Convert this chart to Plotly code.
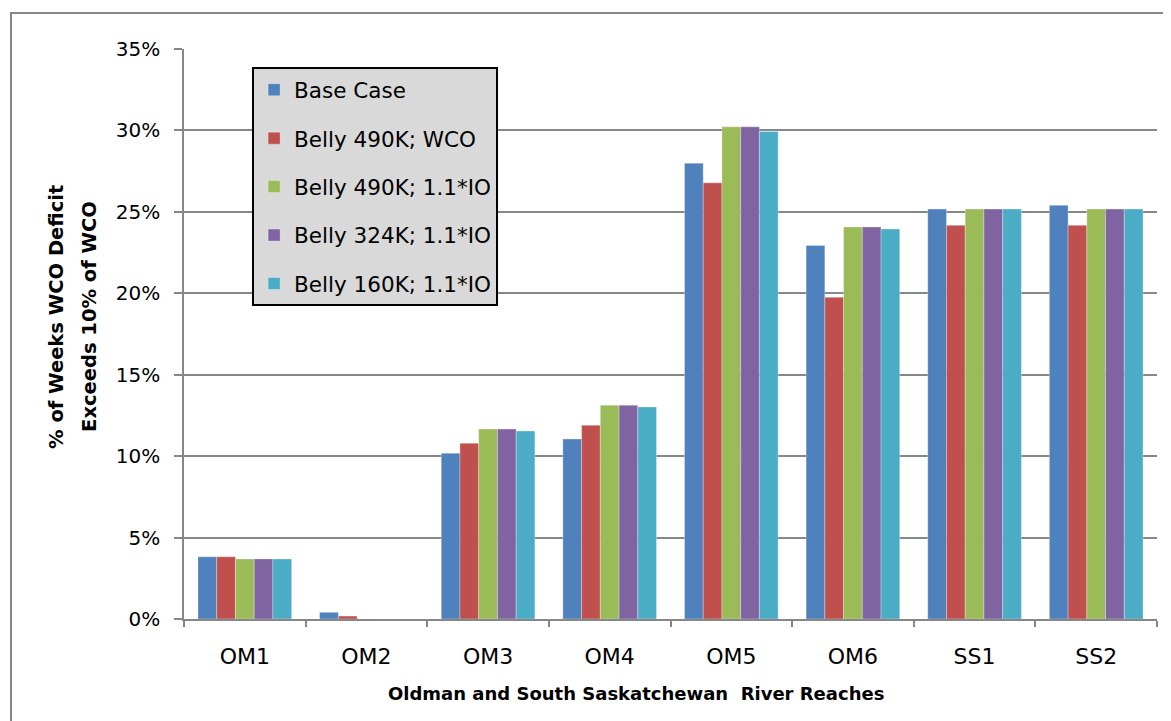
import plotly.graph_objects as go

# Reaches along the x axis
reaches = ["OM1", "OM2", "OM3", "OM4", "OM5", "OM6", "SS1", "SS2"]

# % of weeks in which WCO deficit exceeds 10% of WCO (fractions)
base_case = [0.0382, 0.0041, 0.1018, 0.1105, 0.2799, 0.2294, 0.2517, 0.2540]
belly_490_wco = [0.0382, 0.0018, 0.1079, 0.1190, 0.2678, 0.1976, 0.2417, 0.2417]
belly_490_io = [0.0369, 0.0, 0.1166, 0.1313, 0.3022, 0.2407, 0.2517, 0.2517]
belly_324_io = [0.0369, 0.0, 0.1166, 0.1313, 0.3022, 0.2407, 0.2517, 0.2517]
belly_160_io = [0.0369, 0.0, 0.1154, 0.1302, 0.2994, 0.2394, 0.2517, 0.2517]

series_names = ["Base Case", "Belly 490K; WCO", "Belly 490K; 1.1*IO",
                "Belly 324K; 1.1*IO", "Belly 160K; 1.1*IO"]
series_values = [base_case, belly_490_wco, belly_490_io, belly_324_io, belly_160_io]
colors = ["#4F81BD", "#C0504D", "#9BBB59", "#8064A2", "#4BACC6"]

font_family = "'DejaVu Sans', sans-serif"

fig = go.Figure()
for name, vals, col in zip(series_names, series_values, colors):
    fig.add_trace(go.Bar(
        x=reaches, y=vals, name=name, legendgroup=name,
        marker=dict(color=col, line=dict(color="rgba(255,255,255,0.6)", width=0.5)),
    ))

# page body has an 8px margin, so the figure is 8px smaller than the window
fig.update_layout(
    width=1163, height=713,
    margin=dict(l=176, r=14, t=41, b=102),
    paper_bgcolor="white", plot_bgcolor="white",
    barmode="group", bargap=0.23, bargroupgap=0,
    font=dict(family=font_family, color="black", size=19),
    showlegend=True,
    legend=dict(
        x=0.07, y=0.968, xanchor="left", yanchor="top",
        bgcolor="#D9D9D9", bordercolor="black", borderwidth=2,
        font=dict(size=21.5), tracegroupgap=17.5,
        itemclick=False,
    ),
)

fig.update_yaxes(
    range=[0, 0.35], dtick=0.05, tickformat=".0%",
    showgrid=True, gridcolor="#878787", gridwidth=1.5,
    showline=True, linecolor="#878787", linewidth=1.5,
    ticks="outside", ticklen=8, tickcolor="#878787", tickwidth=1.5,
    ticklabelstandoff=10, zeroline=False,
    tickfont=dict(size=20),
)
fig.update_xaxes(
    showline=True, linecolor="#878787", linewidth=1.5,
    ticks="outside", tickson="boundaries", ticklen=6,
    tickcolor="#878787", tickwidth=1.5,
    ticklabelstandoff=17, tickfont=dict(size=22),
)

# Axis titles (y title as two lines placed separately)
for txt, px_x in [("% of Weeks WCO Deficit", 49), ("Exceeds 10% of WCO", 82)]:
    fig.add_annotation(
        text=f"<b>{txt}</b>",
        xref="paper", yref="paper", x=(px_x - 176) / 973, y=0.53,
        textangle=-90, showarrow=False, font=dict(size=19.5),
        xanchor="center", yanchor="middle",
    )
fig.add_annotation(
    text="<b>Oldman and South Saskatchewan  River Reaches</b>",
    xref="paper", yref="paper", x=0.465, y=-0.13,
    showarrow=False, font=dict(size=18),
    xanchor="center", yanchor="middle",
)

# Chart-area border
fig.add_shape(
    type="rect", xref="paper", yref="paper",
    x0=-0.1778, y0=-0.4, x1=1.05, y1=1.063,
    line=dict(color="#878787", width=2), fillcolor="rgba(0,0,0,0)",
    layer="below",
)

fig.write_html("out.html")
